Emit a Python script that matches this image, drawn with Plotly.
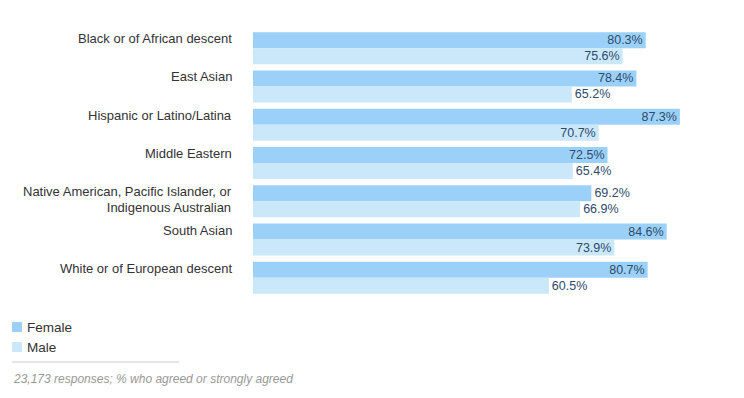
import plotly.graph_objects as go

categories = [
    "Black or of African descent",
    "East Asian",
    "Hispanic or Latino/Latina",
    "Middle Eastern",
    "Native American, Pacific Islander, or Indigenous Australian",
    "South Asian",
    "White or of European descent",
]
category_labels = [
    ["Black or of African descent"],
    ["East Asian"],
    ["Hispanic or Latino/Latina"],
    ["Middle Eastern"],
    ["Native American, Pacific Islander, or", "Indigenous Australian"],
    ["South Asian"],
    ["White or of European descent"],
]
female = [80.3, 78.4, 87.3, 72.5, 69.2, 84.6, 80.7]
male = [75.6, 65.2, 70.7, 65.4, 66.9, 73.9, 60.5]
series_names = ["Female", "Male"]
footnote = "23,173 responses; % who agreed or strongly agreed"

FEMALE_COLOR = "#9bd1f9"
MALE_COLOR = "#cbe8fb"
VALUE_COLOR = "#2e4a6b"
FONT = "Liberation Sans, Arial, sans-serif"
OFF = 8  # page body margin
W, H = 736, 390
L, R, T, B = 245, 2, 21, 101
PW, PH = W - L - R, H - T - B
LABEL_SIZE = 13
LINE_PITCH = 15.5


def px_x(px):
    return (px - OFF - L) / PW


def px_y(py):
    return (H - B - (py - OFF)) / PH


def positions(vals):
    return ["inside" if v >= 70 else "outside" for v in vals]


fig = go.Figure()
for name, vals, col in [(series_names[0], female, FEMALE_COLOR), (series_names[1], male, MALE_COLOR)]:
    fig.add_trace(go.Bar(
        name=name, y=categories, x=vals, orientation="h",
        marker=dict(color=col, line=dict(width=0)),
        text=[f"{v:.1f}%" for v in vals],
        textposition=positions(vals),
        insidetextanchor="end",
        textfont=dict(color=VALUE_COLOR, size=12.5, family=FONT),
        constraintext="none", cliponaxis=False, showlegend=False,
    ))

annotations = []
for cat, lines in zip(categories, category_labels):
    n = len(lines)
    # base font size sets the line pitch; spans keep the glyphs at LABEL_SIZE
    text = "<br>".join(f"<span style='font-size:{LABEL_SIZE}px'>{ln}</span>" for ln in lines)
    annotations.append(dict(
        x=0, xref="paper", xanchor="right", xshift=-19,
        y=cat, yref="y", yanchor="middle",
        yshift=9.5 - (n - 1) * LINE_PITCH / 2,
        text=text, showarrow=False, align="right",
        font=dict(size=LINE_PITCH / 1.3 if n > 1 else LABEL_SIZE, color="#333333", family=FONT),
    ))

shapes = []
legend_rows = [(series_names[0], FEMALE_COLOR, 322), (series_names[1], MALE_COLOR, 342)]
for name, col, top in legend_rows:
    shapes.append(dict(type="rect", xref="paper", yref="paper",
                       x0=px_x(12), x1=px_x(22), y0=px_y(top + 10), y1=px_y(top),
                       fillcolor=col, line=dict(width=0)))
    annotations.append(dict(
        x=px_x(25), xref="paper", xanchor="left", y=px_y(top + 5), yref="paper", yanchor="middle",
        text=name, showarrow=False,
        font=dict(size=13.5, color="#333333", family=FONT),
    ))
shapes.append(dict(type="line", xref="paper", yref="paper",
                   x0=px_x(12), x1=px_x(179), y0=px_y(362), y1=px_y(362),
                   line=dict(color="#cccccc", width=1)))
annotations.append(dict(
    x=px_x(11), xref="paper", xanchor="left", y=px_y(379), yref="paper", yanchor="middle",
    text=f"<i>{footnote}</i>", showarrow=False,
    font=dict(size=12, color="#999999", family=FONT),
))

fig.update_layout(
    width=W, height=H,
    margin=dict(l=L, r=R, t=T, b=B, pad=0),
    barmode="group", bargap=0.165, bargroupgap=0,
    plot_bgcolor="white", paper_bgcolor="white",
    xaxis=dict(range=[0, 100], visible=False, fixedrange=True),
    yaxis=dict(autorange="reversed", showticklabels=False, showgrid=False,
               zeroline=False, showline=False, ticks="", fixedrange=True),
    annotations=annotations, shapes=shapes,
    font=dict(family=FONT),
)
fig.write_html("out.html")
